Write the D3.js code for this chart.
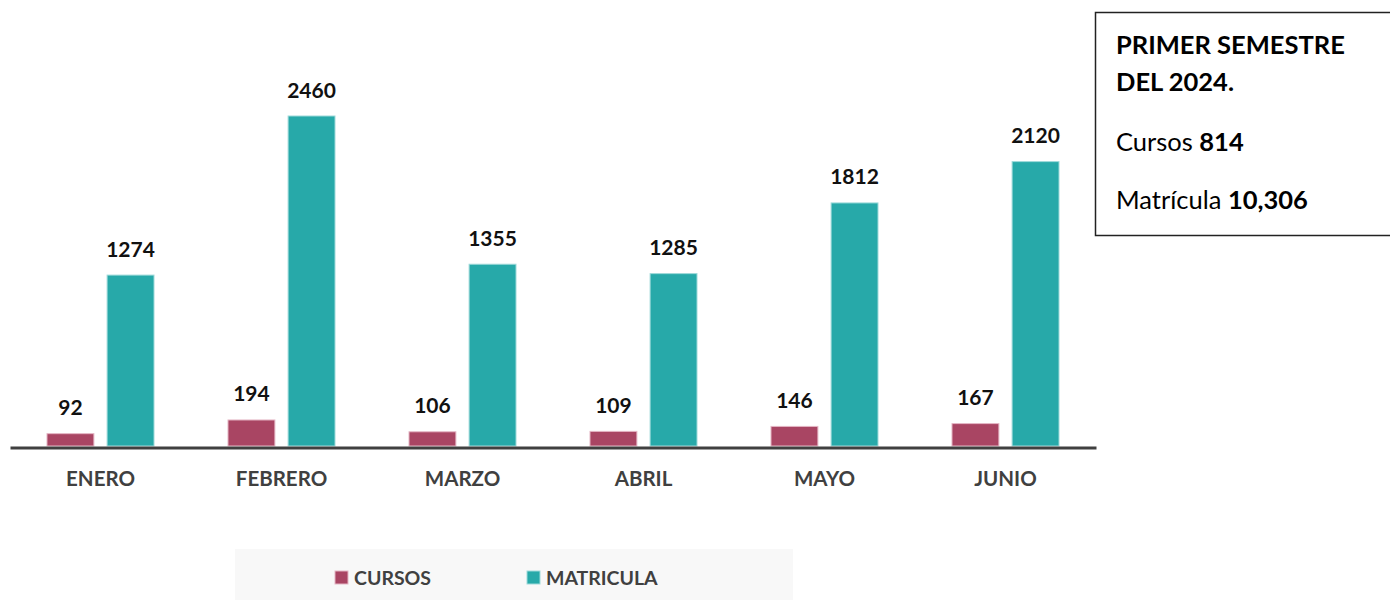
<!DOCTYPE html>
<html>
<head>
<meta charset="utf-8">
<script src="https://cdn.jsdelivr.net/npm/d3@7"></script>
<style>
  body { margin: 0; background: #fff; }
  svg { display: block; }
</style>
</head>
<body>
<svg id="grafico" width="1390" height="600"></svg>
<script>
const meses = ["ENERO", "FEBRERO", "MARZO", "ABRIL", "MAYO", "JUNIO"];
const cursos = [92, 194, 106, 109, 146, 167];
const matricula = [1274, 2460, 1355, 1285, 1812, 2120];
const series = ["CURSOS", "MATRICULA"];

const svg = d3.select("#grafico");
const font = "Lato, 'Open Sans', sans-serif";

const colors = d3.scaleOrdinal()
  .domain(series)
  .range(["#a94563", "#27a9a9"]);
const strokes = d3.scaleOrdinal()
  .domain(series)
  .range(["#e4b6c4", "#9ed9d9"]);

const base = 446;
const x = d3.scaleBand()
  .domain(meses)
  .range([10, 1096])
  .paddingInner(0)
  .paddingOuter(0);

const xs = d3.scaleBand()
  .domain(series)
  .range([37, x.bandwidth() - 37])
  .paddingInner(0.22);

const y = d3.scaleLinear()
  .domain([0, 2460])
  .range([base, 116]);

const rows = meses.map((m, i) => ({ mes: m, values: [
  { s: "CURSOS", v: cursos[i] },
  { s: "MATRICULA", v: matricula[i] }
]}));

const g = svg.selectAll("g.mes")
  .data(rows)
  .join("g")
  .attr("class", "mes")
  .attr("transform", d => `translate(${x(d.mes)},0)`);

g.selectAll("rect")
  .data(d => d.values)
  .join("rect")
  .attr("x", d => xs(d.s))
  .attr("y", d => y(d.v))
  .attr("width", xs.bandwidth())
  .attr("height", d => base - y(d.v))
  .attr("fill", d => colors(d.s))
  .attr("stroke", d => strokes(d.s))
  .attr("stroke-width", 1);

// etiquetas de valores
g.selectAll("text.valor")
  .data(d => d.values)
  .join("text")
  .attr("class", "valor")
  .attr("x", d => xs(d.s) + xs.bandwidth() / 2)
  .attr("y", d => y(d.v) - 18.5)
  .attr("text-anchor", "middle")
  .attr("font-family", font)
  .attr("font-weight", "bold")
  .attr("font-size", 21)
  .attr("fill", "#111")
  .text(d => d.v);

// eje
const axis = svg.append("g")
  .attr("transform", `translate(0,${base + 1.5})`)
  .call(d3.axisBottom(x).tickSize(0).tickPadding(24));
axis.select(".domain").attr("stroke", "#404040").attr("stroke-width", 3);
axis.selectAll("text")
  .attr("font-family", font)
  .attr("font-weight", "bold")
  .attr("font-size", 20.5)
  .attr("fill", "#404040");

// leyenda
svg.append("rect")
  .attr("x", 235).attr("y", 549)
  .attr("width", 558).attr("height", 51)
  .attr("fill", "#f8f8f8");

const legX = d3.scaleOrdinal().domain(series).range([335, 527]);
const leg = svg.selectAll("g.leg")
  .data(series)
  .join("g")
  .attr("class", "leg")
  .attr("transform", d => `translate(${legX(d)},571)`);
leg.append("rect")
  .attr("width", 13).attr("height", 13)
  .attr("fill", d => colors(d))
  .attr("stroke", d => strokes(d));
leg.append("text")
  .attr("x", 19).attr("y", 14)
  .attr("font-family", font)
  .attr("font-weight", "bold")
  .attr("font-size", 19.5)
  .attr("fill", "#404040")
  .text(d => d);

// recuadro de totales
svg.append("rect")
  .attr("x", 1095.5).attr("y", 12.5)
  .attr("width", 300).attr("height", 223)
  .attr("fill", "#fff")
  .attr("stroke", "#222")
  .attr("stroke-width", 1.5);

const box = svg.append("g").attr("font-family", font).attr("fill", "#000");
box.append("text").attr("x", 1116).attr("y", 54).attr("font-size", 25.5).attr("font-weight", "bold").text("PRIMER SEMESTRE");
box.append("text").attr("x", 1116).attr("y", 91).attr("font-size", 25.5).attr("font-weight", "bold").text("DEL 2024.");
const t1 = box.append("text").attr("x", 1116).attr("y", 151).attr("font-size", 25.5);
t1.append("tspan").text("Cursos ");
t1.append("tspan").attr("font-weight", "bold").text(d3.sum(cursos));
const t2 = box.append("text").attr("x", 1116).attr("y", 209).attr("font-size", 25.5);
t2.append("tspan").text("Matrícula ");
t2.append("tspan").attr("font-weight", "bold").text(d3.format(",")(d3.sum(matricula)));
</script>
</body>
</html>
